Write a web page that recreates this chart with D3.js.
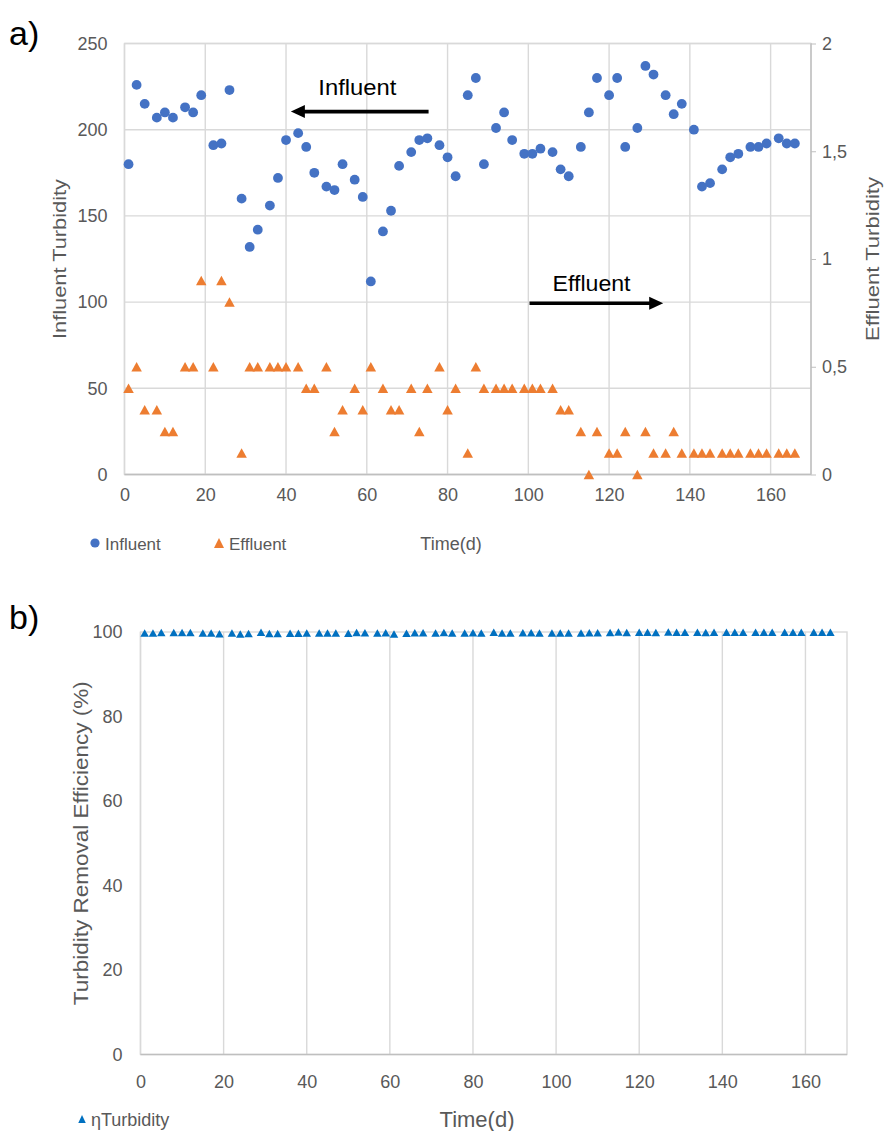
<!DOCTYPE html>
<html>
<head>
<meta charset="utf-8">
<script src="https://cdn.jsdelivr.net/npm/d3@7"></script>
<style>
  html, body { margin: 0; padding: 0; background: #fff; }
  svg { display: block; }
  text { font-family: "Liberation Sans Narrow", "Liberation Sans", "DejaVu Sans Condensed", sans-serif; }
</style>
</head>
<body>
<svg id="chart" width="884" height="1131"></svg>
<script>
// Sampling days (d)
const days = [1, 3, 5, 8, 10, 12, 15, 17, 19, 22, 24, 26, 29, 31, 33, 36, 38, 40, 43, 45, 47, 50, 52, 54,
  57, 59, 61, 64, 66, 68, 71, 73, 75, 78, 80, 82, 85, 87, 89, 92, 94, 96, 99, 101, 103, 106, 108, 110,
  113, 115, 117, 120, 122, 124, 127, 129, 131, 134, 136, 138, 141, 143, 145, 148, 150, 152, 155, 157, 159, 162, 164, 166];

// Influent turbidity (left axis)
const influent = [180, 226, 215, 207, 210, 207, 213, 210, 220, 191, 192, 223, 160, 132, 142, 156, 172, 194, 198, 190, 175, 167, 165, 180,
  171, 161, 112, 141, 153, 179, 187, 194, 195, 191, 184, 173, 220, 230, 180, 201, 210, 194, 186, 186, 189, 187, 177, 173,
  190, 210, 230, 220, 230, 190, 201, 237, 232, 220, 209, 215, 200, 167, 169, 177, 184, 186, 190, 190, 192, 195, 192, 192];

// Effluent turbidity (right axis)
const effluent = [0.4, 0.5, 0.3, 0.3, 0.2, 0.2, 0.5, 0.5, 0.9, 0.5, 0.9, 0.8, 0.1, 0.5, 0.5, 0.5, 0.5, 0.5, 0.5, 0.4, 0.4, 0.5, 0.2, 0.3,
  0.4, 0.3, 0.5, 0.4, 0.3, 0.3, 0.4, 0.2, 0.4, 0.5, 0.3, 0.4, 0.1, 0.5, 0.4, 0.4, 0.4, 0.4, 0.4, 0.4, 0.4, 0.4, 0.3, 0.3,
  0.2, 0.0, 0.2, 0.1, 0.1, 0.2, 0.0, 0.2, 0.1, 0.1, 0.2, 0.1, 0.1, 0.1, 0.1, 0.1, 0.1, 0.1, 0.1, 0.1, 0.1, 0.1, 0.1, 0.1];

// Turbidity removal efficiency (%)
const removal = [99.78, 99.78, 99.86, 99.86, 99.90, 99.90, 99.77, 99.76, 99.59, 99.74, 99.53, 99.64, 99.94, 99.62, 99.65, 99.68, 99.71, 99.74,
  99.75, 99.79, 99.77, 99.70, 99.88, 99.83, 99.77, 99.81, 99.55, 99.72, 99.80, 99.83, 99.79, 99.90, 99.79, 99.74, 99.84, 99.77,
  99.95, 99.78, 99.78, 99.80, 99.81, 99.79, 99.78, 99.78, 99.79, 99.79, 99.83, 99.83, 99.89, 100, 99.91, 99.95, 99.96, 99.89,
  100, 99.92, 99.96, 99.95, 99.90, 99.95, 99.95, 99.94, 99.94, 99.94, 99.95, 99.95, 99.95, 99.95, 99.95, 99.95, 99.95, 99.95];

// Tick values
const timeTicks = [0, 20, 40, 60, 80, 100, 120, 140, 160];
const influentTicks = [0, 50, 100, 150, 200, 250];
const effluentTicks = [0, 0.5, 1, 1.5, 2];
const removalTicks = [0, 20, 40, 60, 80, 100];

const BLUE = "#4472C4", ORANGE = "#ED7D31", DARKBLUE = "#0070C0";
const GRID = "#d9d9d9", AXIS = "#bfbfbf", LABEL = "#595959";

const svg = d3.select("#chart");
svg.append("rect").attr("width", 884).attr("height", 1131).attr("fill", "#fff");

// Triangle whose bounding box is centred on the data point
const tri = (w, h) => `M0,${-h / 2}L${w / 2},${h / 2}L${-w / 2},${h / 2}Z`;
const commaFmt = d => String(d).replace(".", ",");

function styleAxis(g, size) {
  g.select(".domain").remove();
  g.selectAll(".tick line").attr("stroke", AXIS);
  g.selectAll(".tick text").attr("fill", LABEL).attr("font-size", size);
}

/* ---------------- a) Influent / effluent turbidity ---------------- */
const A = { left: 124.5, right: 811, top: 43.5, bottom: 474.5 };
const xA = d3.scaleLinear().domain([0, 170]).range([A.left, A.right]);
const yA = d3.scaleLinear().domain([0, 250]).range([A.bottom, A.top]);
const yA2 = d3.scaleLinear().domain([0, 2]).range([A.bottom, A.top]);

const gA = svg.append("g");
gA.append("g").selectAll("line").data(influentTicks).join("line")
  .attr("x1", A.left).attr("x2", A.right).attr("y1", d => yA(d)).attr("y2", d => yA(d))
  .attr("stroke", GRID).attr("stroke-width", 1.4);
gA.append("g").selectAll("line").data(timeTicks).join("line")
  .attr("x1", d => xA(d)).attr("x2", d => xA(d)).attr("y1", A.top).attr("y2", A.bottom)
  .attr("stroke", GRID).attr("stroke-width", 1.4);
gA.append("rect").attr("x", A.left).attr("y", A.top).attr("width", A.right - A.left).attr("height", A.bottom - A.top)
  .attr("fill", "none").attr("stroke", GRID).attr("stroke-width", 1.4);
gA.append("line").attr("x1", A.left).attr("x2", A.right).attr("y1", A.bottom).attr("y2", A.bottom)
  .attr("stroke", AXIS).attr("stroke-width", 1.4);
gA.append("line").attr("x1", A.right).attr("x2", A.right).attr("y1", A.top).attr("y2", A.bottom)
  .attr("stroke", AXIS).attr("stroke-width", 1.4);

gA.append("g").attr("transform", `translate(${A.left},0)`)
  .call(d3.axisLeft(yA).tickValues(influentTicks).tickSize(0).tickPadding(17))
  .call(g => styleAxis(g, 18));
gA.append("g").attr("transform", `translate(${A.right},0)`)
  .call(d3.axisRight(yA2).tickValues(effluentTicks).tickSize(5).tickPadding(6).tickFormat(commaFmt))
  .call(g => styleAxis(g, 18));
gA.append("g").attr("transform", `translate(0,${A.bottom})`)
  .call(d3.axisBottom(xA).tickValues(timeTicks).tickSize(0).tickPadding(14))
  .call(g => styleAxis(g, 18));

gA.append("text").attr("transform", `translate(66,${(A.top + A.bottom) / 2}) rotate(-90)`)
  .attr("text-anchor", "middle").attr("fill", LABEL).attr("font-size", 19)
  .attr("textLength", 160).attr("lengthAdjust", "spacingAndGlyphs").text("Influent Turbidity");
gA.append("text").attr("transform", `translate(879,${(A.top + A.bottom) / 2}) rotate(-90)`)
  .attr("text-anchor", "middle").attr("fill", LABEL).attr("font-size", 19)
  .attr("textLength", 164).attr("lengthAdjust", "spacingAndGlyphs").text("Effluent Turbidity");

// effluent triangles
gA.append("g").selectAll("path").data(days).join("path")
  .attr("d", tri(10.5, 9.5))
  .attr("transform", (d, i) => `translate(${xA(d)},${yA2(effluent[i])})`)
  .attr("fill", ORANGE);
// influent circles
gA.append("g").selectAll("circle").data(days).join("circle")
  .attr("cx", d => xA(d)).attr("cy", (d, i) => yA(influent[i])).attr("r", 4.9)
  .attr("fill", BLUE);

// series annotations with arrows
function arrow(g, x1, x2, y) {
  const dir = Math.sign(x2 - x1);
  g.append("line").attr("x1", x1).attr("x2", x2 - dir * 10).attr("y1", y).attr("y2", y)
    .attr("stroke", "#000").attr("stroke-width", 3.6);
  g.append("path").attr("d", `M${x2},${y}L${x2 - dir * 14},${y - 6.5}L${x2 - dir * 14},${y + 6.5}Z`).attr("fill", "#000");
}
arrow(gA, xA(75.3), xA(41.2), yA(210.5));
gA.append("text").attr("x", xA(48)).attr("y", yA(220.3)).attr("font-size", 22).attr("fill", "#000")
  .style("font-family", "'Liberation Sans', sans-serif").attr("textLength", 78).attr("lengthAdjust", "spacingAndGlyphs").text("Influent");
arrow(gA, xA(100.3), xA(133.4), yA2(0.795));
gA.append("text").attr("x", xA(106)).attr("y", yA2(0.85)).attr("font-size", 22).attr("fill", "#000")
  .style("font-family", "'Liberation Sans', sans-serif").attr("textLength", 78).attr("lengthAdjust", "spacingAndGlyphs").text("Effluent");

// legend + axis caption
const legA = gA.append("g");
legA.append("circle").attr("cx", 95).attr("cy", 543).attr("r", 4.6).attr("fill", BLUE);
legA.append("text").attr("x", 105).attr("y", 549.5).attr("font-size", 17).attr("fill", LABEL).text("Influent");
legA.append("path").attr("d", tri(10, 10)).attr("transform", "translate(219,543)").attr("fill", ORANGE);
legA.append("text").attr("x", 229).attr("y", 549.5).attr("font-size", 17).attr("fill", LABEL).text("Effluent");
legA.append("text").attr("x", 451).attr("y", 549.5).attr("text-anchor", "middle").attr("font-size", 18).attr("fill", LABEL).text("Time(d)");

svg.append("text").attr("x", 9).attr("y", 45).attr("font-size", 34).attr("fill", "#000")
  .style("font-family", "'Liberation Sans', sans-serif").text("a)");

/* ---------------- b) Turbidity removal efficiency ---------------- */
const B = { left: 140.5, right: 847, top: 632, bottom: 1054.5 };
const xB = d3.scaleLinear().domain([0, 170]).range([B.left, B.right]);
const yB = d3.scaleLinear().domain([0, 100]).range([B.bottom, B.top]);

const gB = svg.append("g");
gB.append("g").selectAll("line").data(timeTicks).join("line")
  .attr("x1", d => xB(d)).attr("x2", d => xB(d)).attr("y1", B.top).attr("y2", B.bottom)
  .attr("stroke", GRID).attr("stroke-width", 1.4);
gB.append("rect").attr("x", B.left).attr("y", B.top).attr("width", B.right - B.left).attr("height", B.bottom - B.top)
  .attr("fill", "none").attr("stroke", GRID).attr("stroke-width", 1.4);
gB.append("line").attr("x1", B.left).attr("x2", B.right).attr("y1", B.bottom).attr("y2", B.bottom)
  .attr("stroke", AXIS).attr("stroke-width", 1.4);

gB.append("g").attr("transform", `translate(${B.left},0)`)
  .call(d3.axisLeft(yB).tickValues(removalTicks).tickSize(0).tickPadding(18))
  .call(g => styleAxis(g, 18));
gB.append("g").attr("transform", `translate(0,${B.bottom})`)
  .call(d3.axisBottom(xB).tickValues(timeTicks).tickSize(0).tickPadding(21))
  .call(g => styleAxis(g, 18));

gB.append("text").attr("transform", `translate(88,${(B.top + B.bottom) / 2}) rotate(-90)`)
  .attr("text-anchor", "middle").attr("fill", LABEL).attr("font-size", 20)
  .attr("textLength", 324).attr("lengthAdjust", "spacingAndGlyphs").text("Turbidity Removal Efficiency (%)");

gB.append("g").selectAll("path").data(days).join("path")
  .attr("d", tri(8.5, 7.5))
  .attr("transform", (d, i) => `translate(${xB(d)},${yB(removal[i])})`)
  .attr("fill", DARKBLUE);

const legB = gB.append("g");
legB.append("path").attr("d", tri(7.5, 8)).attr("transform", "translate(82,1119)").attr("fill", DARKBLUE);
legB.append("text").attr("x", 91).attr("y", 1126).attr("font-size", 18).attr("fill", LABEL).text("ηTurbidity");
legB.append("text").attr("x", 477).attr("y", 1127).attr("text-anchor", "middle").attr("font-size", 22).attr("fill", LABEL).text("Time(d)");

svg.append("text").attr("x", 9).attr("y", 629).attr("font-size", 34).attr("fill", "#000")
  .style("font-family", "'Liberation Sans', sans-serif").text("b)");
</script>
</body>
</html>
